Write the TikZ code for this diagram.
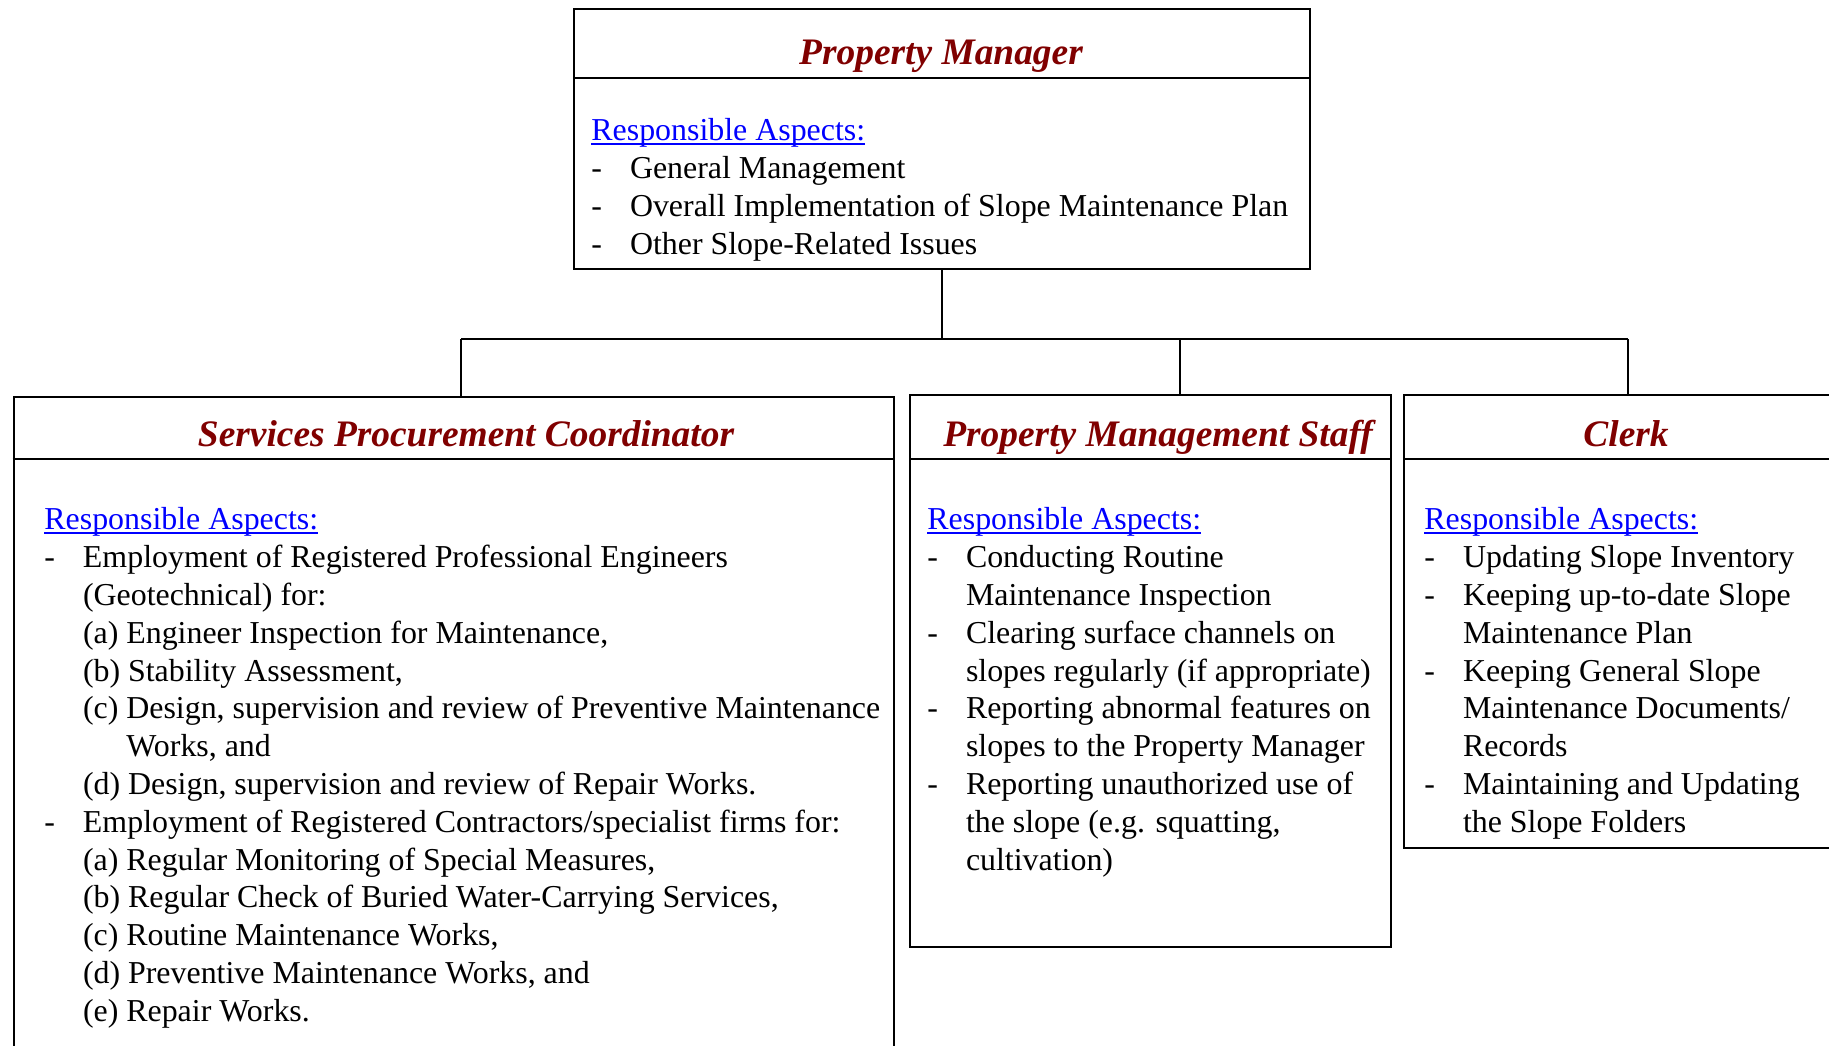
\documentclass[tikz,border=0pt]{standalone}
\usepackage{fontspec}
\setmainfont{Liberation Serif}
\usepackage{tikz}
\usepackage{xcolor}
\usetikzlibrary{positioning}

\definecolor{titlered}{RGB}{128,0,0}
\definecolor{linkblue}{RGB}{0,0,255}

% underlined heading inside a box (the strut fixes the height of the first line)
\newcommand{\linktext}[1]{\rule{0pt}{14pt}{\color{linkblue}\setbox0\hbox{#1}\rlap{\rule[-1.8pt]{\wd0}{0.75pt}}\box0}}
% dash item and its continuation lines
\newcommand{\dashitem}[1]{\makebox[19.3pt][l]{-}#1}
\newcommand{\contline}[1]{\hspace*{19.3pt}#1}

\tikzset{
  rolebox/.style={draw, line width=1pt, rectangle, anchor=north west, inner sep=0pt},
  roletitle/.style={anchor=base, inner sep=0pt, text=titlered,
    font=\fontsize{18.7pt}{22pt}\selectfont\bfseries\itshape},
  roletext/.style={anchor=north west, inner sep=0pt, align=left,
    font=\fontsize{15.95pt}{18.9pt}\selectfont},
  link/.style={line width=0.8pt}
}

\begin{document}
\begin{tikzpicture}[x=0.5pt, y=-0.5pt]
  \useasboundingbox (0,0) rectangle (1829,1045);
  \clip (0,0) rectangle (1829,1045);

  % Property Manager
  \node[rolebox, minimum width=368pt, minimum height=130.25pt] (pm) at (573,7.5) {};
  \draw[line width=1pt] (pm.west |- 0,77.5) -- (pm.east |- 0,77.5);
  \node[roletitle] (pmtitle) at (941,64) {Property Manager};
  \node[roletext] (pmtext) at (591,112.5) {%
    \linktext{Responsible Aspects:}\\
    \dashitem{General Management}\\
    \dashitem{Overall Implementation of Slope Maintenance Plan}\\
    \dashitem{Other Slope-Related Issues}};

  % Services Procurement Coordinator
  \node[rolebox, minimum width=440.25pt, minimum height=345pt] (spc) at (12.5,396) {};
  \draw[line width=1pt] (spc.west |- 0,459) -- (spc.east |- 0,459);
  \node[roletitle] (spctitle) at (466,446.5) {Services Procurement Coordinator};
  \node[roletext] (spctext) at (44,501.5) {%
    \linktext{Responsible Aspects:}\\
    \dashitem{Employment of Registered Professional Engineers}\\
    \contline{(Geotechnical) for:}\\
    \contline{(a) Engineer Inspection for Maintenance,}\\
    \contline{(b) Stability Assessment,}\\
    \contline{(c) Design, supervision and review of Preventive Maintenance}\\
    \contline{\phantom{(c)~}Works, and}\\
    \contline{(d) Design, supervision and review of Repair Works.}\\
    \dashitem{Employment of Registered Contractors/specialist firms for:}\\
    \contline{(a) Regular Monitoring of Special Measures,}\\
    \contline{(b) Regular Check of Buried Water-Carrying Services,}\\
    \contline{(c) Routine Maintenance Works,}\\
    \contline{(d) Preventive Maintenance Works, and}\\
    \contline{(e) Repair Works.}};

  % Property Management Staff
  \node[rolebox, minimum width=240.5pt, minimum height=276pt] (pms) at (909,394) {};
  \draw[line width=1pt] (pms.west |- 0,459) -- (pms.east |- 0,459);
  \node[roletitle] (pmstitle) at (1158,446.5) {Property Management Staff};
  \node[roletext] (pmstext) at (927,501.5) {%
    \linktext{Responsible Aspects:}\\
    \dashitem{Conducting Routine}\\
    \contline{Maintenance Inspection}\\
    \dashitem{Clearing surface channels on}\\
    \contline{slopes regularly (if appropriate)}\\
    \dashitem{Reporting abnormal features on}\\
    \contline{slopes to the Property Manager}\\
    \dashitem{Reporting unauthorized use of}\\
    \contline{the slope (e.g. squatting,}\\
    \contline{cultivation)}};

  % Clerk
  \node[rolebox, minimum width=230pt, minimum height=226.5pt] (clerk) at (1403,394) {};
  \draw[line width=1pt] (clerk.west |- 0,459) -- (clerk.east |- 0,459);
  \node[roletitle] (clerktitle) at (1626,446.5) {Clerk};
  \node[roletext] (clerktext) at (1424,501.5) {%
    \linktext{Responsible Aspects:}\\
    \dashitem{Updating Slope Inventory}\\
    \dashitem{Keeping up-to-date Slope}\\
    \contline{Maintenance Plan}\\
    \dashitem{Keeping General Slope}\\
    \contline{Maintenance Documents/}\\
    \contline{Records}\\
    \dashitem{Maintaining and Updating}\\
    \contline{the Slope Folders}};

  % reporting lines
  \coordinate (busL) at (461,339);
  \coordinate (busM) at (1180,339);
  \coordinate (busR) at (1628,339);
  \draw[link] (pm.south) -- (pm.south |- busM);
  \draw[link] (busL) -- (busR);
  \draw[link] (busL) -- (busL |- spc.north);
  \draw[link] (busM) -- (busM |- pms.north);
  \draw[link] (busR) -- (busR |- clerk.north);
\end{tikzpicture}
\end{document}
